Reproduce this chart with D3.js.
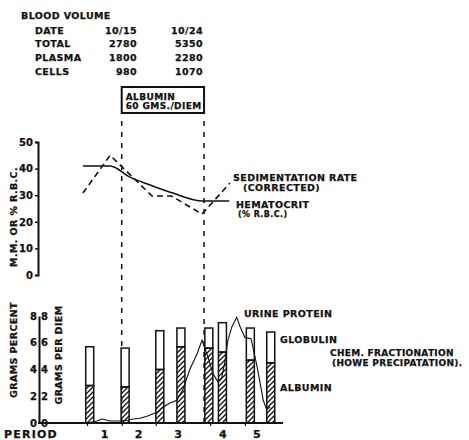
<!DOCTYPE html>
<html>
<head>
<meta charset="utf-8">
<script src="https://cdn.jsdelivr.net/npm/d3@7"></script>
<style>
  body { margin: 0; background: #fff; }
  svg text { font-family: "DejaVu Sans", sans-serif; font-weight: bold; font-size: 9.5px; letter-spacing: 0.4px; fill: #111; stroke: #111; stroke-width: 0.25px; }
</style>
</head>
<body>
<div id="chart"></div>
<script>
// blood volume table
var bvLabels = ["DATE", "TOTAL", "PLASMA", "CELLS"];
var bvFirst = ["10/15", "2780", "1800", "980"];
var bvSecond = ["10/24", "5350", "2280", "1070"];

// albumin given between these days
var albuminDays = [12.3, 24.4];

// upper chart, days + values
var hemDays = [6.6, 10.6, 13.5, 16.5, 19.8, 24.2, 28.1];
var hemVals = [41, 41, 36.8, 33.8, 30.8, 27.8, 27.8];
var sedDays = [6.6, 10.6, 16.75, 19.6, 24.1, 28.2];
var sedVals = [30.8, 45, 29.7, 29.7, 22.9, 34.6];
var upperTicks = [0, 10, 20, 30, 40, 50];

// lower chart - chem fractionation bars
var barDays = [7.6, 12.8, 17.9, 21.0, 25.1, 27.1, 31.2, 34.2];
var barTotal = [5.7, 5.6, 6.9, 7.1, 7.1, 7.5, 7.1, 6.8];
var barAlbumin = [2.8, 2.7, 4.0, 5.7, 5.6, 5.3, 4.7, 4.5];
var lowerTicks = [0, 2, 4, 6, 8];

// urine protein grams per diem
var urineDays = [7.2, 8.7, 9.4, 10.6, 12.0, 13.1, 14.0, 15.0, 16.0, 17.5, 18.4, 19.4, 20.4, 21.3, 22.3, 23.4, 24.1, 24.5, 25.0, 25.7, 26.4, 27.0, 27.5, 27.9, 28.5, 29.2, 29.7, 30.4, 31.3, 32.2, 33.1, 33.6, 34.1];
var urineVals = [0, 0.15, 0.3, 0.15, 0.15, 0.2, 0.3, 0.35, 0.5, 0.8, 1.2, 1.5, 1.7, 2.5, 4.0, 5.2, 6.2, 5.6, 4.9, 3.7, 3.1, 3.4, 4.7, 6.2, 7.2, 7.9, 7.2, 6.4, 6.3, 4.2, 1.7, 1.0, 1.2];

var periodLabels = ["1", "2", "3", "4", "5"];
var periodDays = [9.8, 14.8, 20.6, 27.2, 32.2];
var periodTicks = [7.2, 12.3, 17.3, 25.3, 30.4];

var width = 469, height = 440;

var svg = d3.select("#chart").append("svg")
  .attr("width", width)
  .attr("height", height);

var defs = svg.append("defs");
defs.append("pattern")
  .attr("id", "hatch")
  .attr("patternUnits", "userSpaceOnUse")
  .attr("width", 5).attr("height", 5)
  .append("path")
  .attr("d", "M-1,1 l2,-2 M0,5 l5,-5 M4,6 l2,-2")
  .attr("stroke", "#111")
  .attr("stroke-width", 1.3);

var x = d3.scaleLinear().domain([0, 36]).range([38, 283]);
var yUp = d3.scaleLinear().domain([0, 50]).range([275, 142]);
var yLow = d3.scaleLinear().domain([0, 8]).range([423, 316]);

//----- blood volume table
svg.append("text").attr("x", 21).attr("y", 18.5).text("BLOOD VOLUME");
bvLabels.forEach(function (lab, i) {
  var yy = 33.5 + i * 13.7;
  svg.append("text").attr("x", 35).attr("y", yy).text(lab);
  svg.append("text").attr("x", 137).attr("y", yy).attr("text-anchor", "end").text(bvFirst[i]);
  svg.append("text").attr("x", 203).attr("y", yy).attr("text-anchor", "end").text(bvSecond[i]);
});

//----- albumin box + dashed lines
var bx0 = x(albuminDays[0]), bx1 = x(albuminDays[1]);
svg.append("rect")
  .attr("x", bx0).attr("y", 87)
  .attr("width", bx1 - bx0).attr("height", 26)
  .attr("fill", "none").attr("stroke", "#111").attr("stroke-width", 2);
svg.append("text").attr("x", bx0 + 4).attr("y", 100).style("font-size", "9px").text("ALBUMIN");
svg.append("text").attr("x", bx0 + 4).attr("y", 109).style("font-size", "9px").text("60 GMS./DIEM");

svg.selectAll(".alb-line")
  .data(albuminDays)
  .enter().append("line")
  .attr("class", "alb-line")
  .attr("x1", function (d) { return x(d); })
  .attr("x2", function (d) { return x(d); })
  .attr("y1", 121).attr("y2", 423)
  .attr("stroke", "#111").attr("stroke-width", 1.5)
  .attr("stroke-dasharray", "5,6");

//----- upper chart
var upAxis = svg.append("g")
  .attr("transform", "translate(38,0)")
  .call(d3.axisLeft(yUp).tickValues(upperTicks).tickSize(3).tickPadding(2));
upAxis.select(".domain").attr("stroke", "#111").attr("stroke-width", 2);
upAxis.selectAll(".tick line").attr("stroke", "#111").attr("stroke-width", 1.5);

svg.append("text")
  .attr("transform", "translate(17,217) rotate(-90)")
  .attr("text-anchor", "middle")
  .text("M.M. OR % R.B.C.");

var hemLine = d3.line().x(function (d) { return x(d[0]); }).y(function (d) { return yUp(d[1]); });
svg.append("path")
  .datum(d3.zip(hemDays, hemVals))
  .attr("d", hemLine.curve(d3.curveMonotoneX))
  .attr("fill", "none").attr("stroke", "#111").attr("stroke-width", 1.6);

svg.append("path")
  .datum(d3.zip(sedDays, sedVals))
  .attr("d", d3.line().x(function (d) { return x(d[0]); }).y(function (d) { return yUp(d[1]); }))
  .attr("fill", "none").attr("stroke", "#111").attr("stroke-width", 1.6)
  .attr("stroke-dasharray", "6,4");

svg.append("text").attr("x", 233).attr("y", 180.5).text("SEDIMENTATION  RATE");
svg.append("text").attr("x", 243).attr("y", 190.5).text("(CORRECTED)");
svg.append("text").attr("x", 236).attr("y", 207.5).text("HEMATOCRIT");
svg.append("text").attr("x", 238).attr("y", 216.5).style("font-size", "8px").text("(% R.B.C.)");

//----- lower chart
var bw = 8;
var bars = svg.selectAll(".bar")
  .data(d3.range(barDays.length))
  .enter().append("g").attr("class", "bar");
bars.append("rect")
  .attr("x", function (i) { return x(barDays[i]) - bw / 2; })
  .attr("y", function (i) { return yLow(barTotal[i]); })
  .attr("width", bw)
  .attr("height", function (i) { return yLow(barAlbumin[i]) - yLow(barTotal[i]); })
  .attr("fill", "#fff").attr("stroke", "#111").attr("stroke-width", 1.5);
bars.append("rect")
  .attr("x", function (i) { return x(barDays[i]) - bw / 2; })
  .attr("y", function (i) { return yLow(barAlbumin[i]); })
  .attr("width", bw)
  .attr("height", function (i) { return yLow(0) - yLow(barAlbumin[i]); })
  .attr("fill", "url(#hatch)").attr("stroke", "#111").attr("stroke-width", 1.5);

svg.append("path")
  .datum(d3.zip(urineDays, urineVals))
  .attr("d", d3.line().x(function (d) { return x(d[0]); }).y(function (d) { return yLow(d[1]); }))
  .attr("fill", "none").attr("stroke", "#111").attr("stroke-width", 1.1);

var lowLeft = svg.append("g")
  .attr("transform", "translate(39,0)")
  .call(d3.axisLeft(yLow).tickValues(lowerTicks).tickSize(0).tickPadding(2));
lowLeft.select(".domain").attr("stroke", "#111").attr("stroke-width", 2);
var lowRight = svg.append("g")
  .attr("transform", "translate(39,0)")
  .call(d3.axisRight(yLow).tickValues(lowerTicks).tickSize(0).tickPadding(2));
lowRight.select(".domain").remove();

svg.selectAll(".tick text")
  .style("font-family", "DejaVu Sans").style("font-weight", "bold").style("font-size", "10px")
  .style("letter-spacing", "0px").attr("fill", "#111");

// baseline
var xAxis = svg.append("g")
  .attr("transform", "translate(0,423)")
  .call(d3.axisBottom(x).tickValues(periodTicks).tickSize(3).tickFormat(""));
xAxis.select(".domain").attr("d", "M38,0H283").attr("stroke", "#111").attr("stroke-width", 2);
xAxis.selectAll(".tick line").attr("stroke", "#111").attr("stroke-width", 1.2);

svg.selectAll(".period")
  .data(periodLabels)
  .enter().append("text")
  .attr("class", "period")
  .attr("x", function (d, i) { return x(periodDays[i]); })
  .attr("y", 438)
  .attr("text-anchor", "middle")
  .style("font-size", "11px")
  .text(function (d) { return d; });
svg.append("text").attr("x", 4).attr("y", 438)
  .style("font-size", "11px").style("letter-spacing", "1.2px").text("PERIOD");

svg.append("text")
  .attr("transform", "translate(17,350) rotate(-90)")
  .attr("text-anchor", "middle")
  .text("GRAMS  PERCENT");
svg.append("text")
  .attr("transform", "translate(62,355) rotate(-90)")
  .attr("text-anchor", "middle")
  .text("GRAMS  PER  DIEM");

svg.append("text").attr("x", 244).attr("y", 317).text("URINE  PROTEIN");
svg.append("text").attr("x", 280).attr("y", 342.5).text("GLOBULIN");
svg.append("text").attr("x", 280).attr("y", 390.5).text("ALBUMIN");
svg.append("text").attr("x", 330).attr("y", 355.5)
  .style("font-size", "9px").style("letter-spacing", "0.3px").text("CHEM.  FRACTIONATION");
svg.append("text").attr("x", 332).attr("y", 366)
  .style("font-size", "9px").style("letter-spacing", "0.3px").text("(HOWE  PRECIPATATION).");
</script>
</body>
</html>
